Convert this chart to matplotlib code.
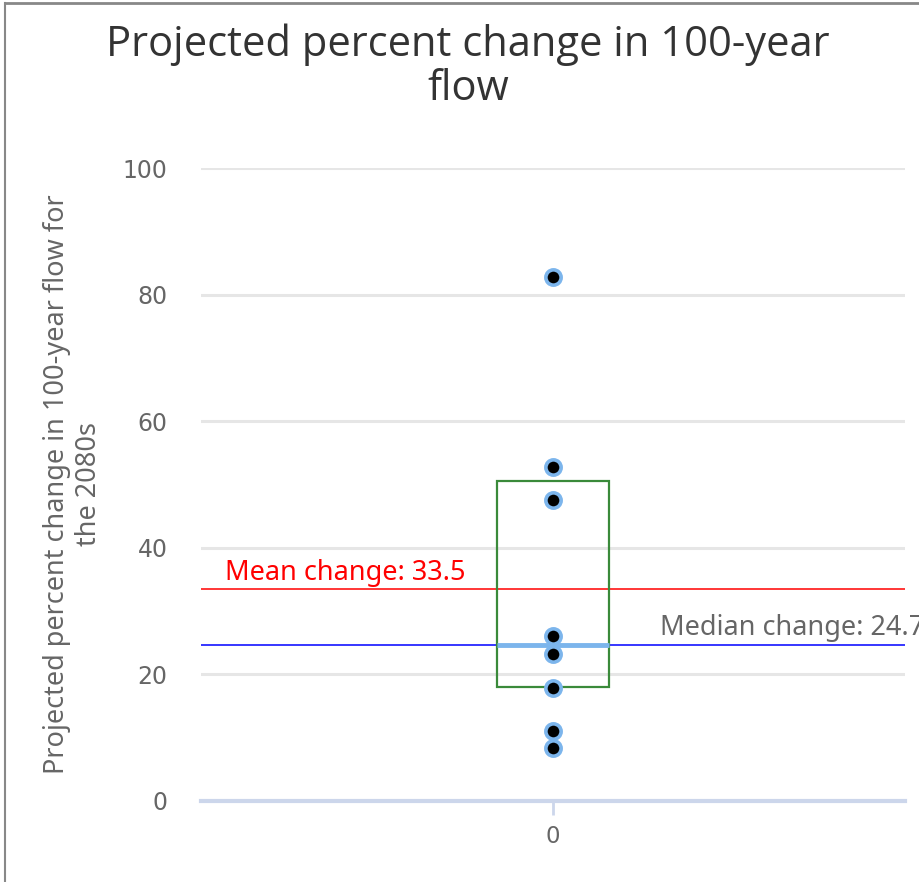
import matplotlib
matplotlib.use("Agg")
import matplotlib.pyplot as plt
from matplotlib.lines import Line2D

# data
categories = ["0"]
flow_change = [82.8, 52.8, 47.6, 26.1, 23.2, 17.9, 11.0, 8.4]
box_q1 = 18.0
box_q3 = 50.5
box_median = 24.7
mean_change = 33.5
median_change = 24.7
y_ticks = [0, 20, 40, 60, 80, 100]

GRID = "#e6e6e6"
AXIS = "#ccd6eb"
TXT = "#666666"
BLUE = "#7cb5ec"
TITLE_FONT = dict(family=["Open Sans", "DejaVu Sans"])
NORMAL = dict(family=["Noto Sans", "DejaVu Sans"])

W, H = 920, 882
fig = plt.figure(figsize=(W / 100, H / 100), dpi=100)
ax = fig.add_axes([201 / W, (H - 801) / H, 704 / W, 633 / H])

ax.set_xlim(-0.5, 0.5)
ax.set_ylim(0, 100)

for t in y_ticks[1:]:
    ax.axhline(t, color=GRID, lw=2.2, zorder=0)
ax.axhline(0, color=AXIS, lw=3, zorder=1, clip_on=False)

# box
ax.bar(0, box_q3 - box_q1, bottom=box_q1, width=0.158, fill=False,
       edgecolor="#3a8a3a", lw=1.6, zorder=3)
ax.plot([-0.079, 0.079], [box_median, box_median], color=BLUE, lw=3.5,
        solid_capstyle="butt", zorder=3)

# mean / median plot lines
ax.axhline(mean_change, color="#ff0000", lw=1.1, zorder=2)
ax.axhline(median_change, color="#0000ff", lw=1.1, zorder=2)
ax.text(-0.466, mean_change + 0.3, f"Mean change: {mean_change}", color="#ff0000",
        fontsize=19.5, va="bottom", **NORMAL)
# label runs past the right edge, as in the source chart
ax.text(0.152, median_change + 0.4, f"Median change: {median_change}", color=TXT,
        fontsize=19.5, va="bottom", clip_on=False, **NORMAL)

# points
ax.plot([0] * len(flow_change), flow_change, "o", color="black", ms=11,
        mec=BLUE, mew=2.6, zorder=4, clip_on=False)

for s in ax.spines.values():
    s.set_visible(False)
ax.set_yticks(y_ticks)
ax.set_yticklabels([str(t) for t in y_ticks], color=TXT, fontsize=17)
ax.tick_params(axis="y", length=0, pad=24)
ax.set_xticks([0])
ax.set_xticklabels(categories, color=TXT, fontsize=16.5)
ax.tick_params(axis="x", length=10, width=2, color=AXIS, pad=7)

ax.set_ylabel("Projected percent change in 100-year flow for\nthe 2080s", color=TXT,
              fontsize=19.5, labelpad=14, linespacing=1.2, **NORMAL)

fig.text(468 / W, 1 - 67 / H, "Projected percent change in 100-year\nflow",
         ha="center", va="center", fontsize=30, color="#333333",
         linespacing=1.05, **TITLE_FONT)

# chart border (top and left visible)
fig.add_artist(Line2D([5 / W, 5 / W], [0, 1 - 3 / H], transform=fig.transFigure,
                      color="#888888", lw=1.5))
fig.add_artist(Line2D([5 / W, 1], [1 - 3 / H, 1 - 3 / H], transform=fig.transFigure,
                      color="#888888", lw=2))

fig.savefig("out.png", dpi=100)
